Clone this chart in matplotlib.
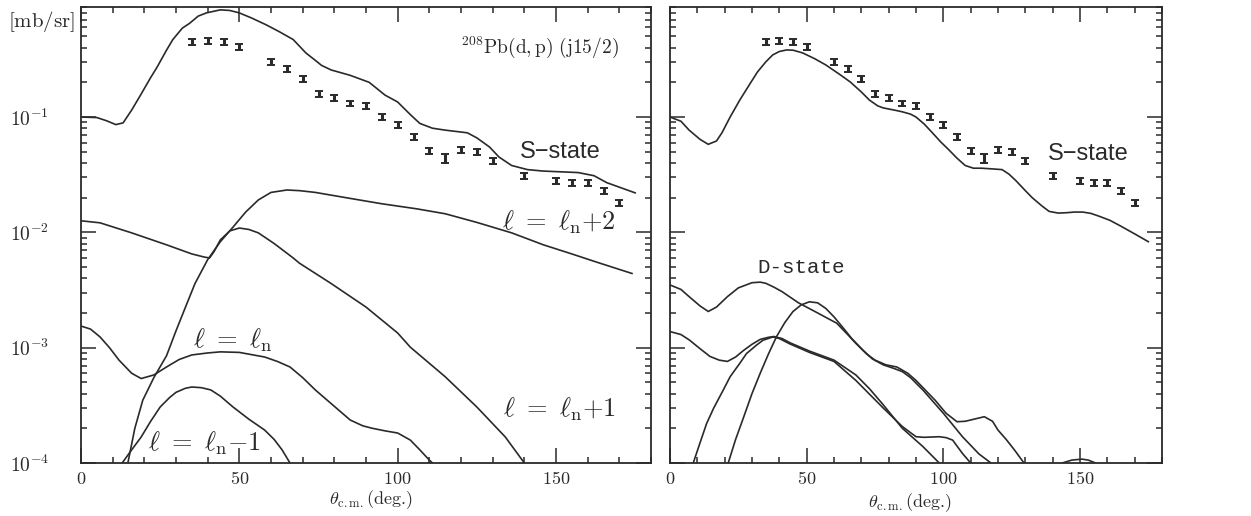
import matplotlib
matplotlib.use('agg')

import matplotlib.pyplot as plt
from matplotlib.ticker import LogLocator, NullFormatter, MultipleLocator

plt.rcParams['mathtext.fontset'] = 'cm'

# measured cross sections (same in both panels)
exp_angle = [35, 40, 45, 50, 60, 65, 70, 75, 80, 85, 90, 95, 100, 105, 110,
             115, 120, 125, 130, 140, 150, 155, 160, 165, 170]
exp_sigma = [0.448, 0.457, 0.448, 0.405, 0.301, 0.261, 0.214, 0.158, 0.146,
             0.132, 0.125, 0.100, 0.085, 0.067, 0.051, 0.044, 0.052, 0.050,
             0.042, 0.031, 0.028, 0.027, 0.027, 0.023, 0.018]
exp_err = [0.027, 0.027, 0.027, 0.022, 0.017, 0.015, 0.012, 0.009, 0.008,
           0.007, 0.007, 0.006, 0.005, 0.004, 0.003, 0.004, 0.003, 0.003,
           0.0025, 0.0018, 0.0016, 0.0016, 0.0016, 0.0014, 0.0011]

# left panel curves
s_left_ang = [0, 5, 8, 11, 13.3, 16, 18.5, 22, 24, 27, 29, 32, 34.3, 37, 39.6,
              44, 47, 50, 54, 58.5, 62.6, 67, 71, 74, 76, 79, 85, 91, 96, 100,
              104, 107, 111, 115, 122, 125, 129, 132, 136, 141, 146, 157,
              162, 166, 175]
s_left_val = [0.100, 0.099, 0.093, 0.086, 0.089, 0.115, 0.15, 0.22, 0.27,
              0.38, 0.47, 0.59, 0.65, 0.75, 0.80, 0.85, 0.84, 0.80, 0.72,
              0.63, 0.55, 0.47, 0.36, 0.31, 0.28, 0.256, 0.23, 0.20, 0.155,
              0.135, 0.105, 0.088, 0.080, 0.077, 0.073, 0.066, 0.055, 0.045,
              0.038, 0.035, 0.034, 0.033, 0.031, 0.027, 0.022]

lp1_ang = [0, 6, 16, 27, 35, 39, 40.6, 42, 44, 47, 50, 53, 56, 61, 67, 69,
           79, 90, 100, 104, 115, 125, 134, 140]
lp1_val = [0.0126, 0.0121, 0.0099, 0.0078, 0.0065, 0.0061, 0.0060, 0.0068,
           0.0086, 0.0103, 0.0109, 0.0106, 0.0099, 0.0080, 0.0060, 0.0054,
           0.0036, 0.00225, 0.00134, 0.00101, 5.6e-4, 3.06e-4, 1.68e-4, 1e-4]

l0_ang = [0, 3, 6, 9, 12, 16, 19, 23, 27, 31, 35, 40, 44, 50, 58, 62, 66,
          70, 74, 80, 85, 89, 92, 96, 100, 104, 107, 110, 111]
l0_val = [1.54e-3, 1.45e-3, 1.24e-3, 1.0e-3, 7.8e-4, 6.0e-4, 5.4e-4, 5.8e-4,
          6.8e-4, 7.9e-4, 8.65e-4, 9.0e-4, 9.2e-4, 9.1e-4, 8.3e-4, 7.6e-4,
          6.8e-4, 5.5e-4, 4.3e-4, 3.1e-4, 2.36e-4, 2.1e-4, 2.0e-4, 1.9e-4,
          1.82e-4, 1.58e-4, 1.3e-4, 1.06e-4, 1e-4]

lm1_ang = [13, 16, 19, 22, 25, 28, 30, 33, 35, 38, 41, 44, 48, 53, 58, 61,
           63.5, 66]
lm1_val = [1e-4, 1.3e-4, 1.68e-4, 2.3e-4, 3.06e-4, 3.7e-4, 4.1e-4, 4.45e-4,
           4.56e-4, 4.5e-4, 4.3e-4, 3.8e-4, 3.06e-4, 2.4e-4, 1.93e-4,
           1.6e-4, 1.3e-4, 1e-4]

lp2_ang = [14.8, 17, 19.5, 23, 27, 30, 33, 36, 40, 44, 48, 52, 56, 60, 65,
           69, 74, 85, 95, 106, 115, 125, 136, 146, 155, 163, 174]
lp2_val = [1e-4, 2.0e-4, 3.5e-4, 5.5e-4, 8.5e-4, 1.4e-3, 2.25e-3, 3.6e-3,
           5.8e-3, 8.3e-3, 0.0111, 0.0150, 0.0191, 0.0222, 0.0233, 0.0230,
           0.0222, 0.0197, 0.0177, 0.0160, 0.0145, 0.0122, 0.0099, 0.0078,
           0.0065, 0.0055, 0.0044]

# right panel curves
s_right_ang = [0, 4, 7, 11, 14, 17, 19, 22, 25.5, 29, 32, 35, 37.6, 40, 42.7,
               45, 48.5, 53, 57, 62, 66, 70, 73, 76, 78, 82, 85, 88, 90, 93,
               96, 99, 102, 105, 108, 111, 114, 118, 121.5, 124, 126.6, 130,
               132.5, 136, 138.7, 142, 145, 148, 151, 154, 157, 161, 165,
               170, 175]
s_right_val = [0.1, 0.092, 0.077, 0.064, 0.058, 0.062, 0.073, 0.10, 0.14,
               0.19, 0.246, 0.30, 0.346, 0.37, 0.382, 0.38, 0.36, 0.32, 0.283,
               0.235, 0.201, 0.165, 0.14, 0.125, 0.12, 0.115, 0.111, 0.106,
               0.10, 0.087, 0.073, 0.061, 0.052, 0.044, 0.038, 0.036, 0.036,
               0.0355, 0.035, 0.032, 0.028, 0.023, 0.020, 0.017, 0.0152,
               0.0147, 0.0148, 0.0150, 0.0150, 0.0146, 0.0138, 0.0127, 0.0113,
               0.0097, 0.0083]

d1_ang = [0, 4, 7, 11, 14, 17, 21, 25, 30, 33, 35, 38, 41, 47, 53, 61, 65,
          68, 72, 75, 79, 83, 87, 90, 97, 101, 105, 108, 110, 115, 118, 120,
          123, 126, 129.5]
d1_val = [3.5e-3, 3.2e-3, 2.77e-3, 2.3e-3, 2.06e-3, 2.25e-3, 2.77e-3, 3.3e-3,
          3.66e-3, 3.7e-3, 3.62e-3, 3.35e-3, 3.06e-3, 2.45e-3, 2.06e-3,
          1.63e-3, 1.3e-3, 1.09e-3, 8.8e-4, 7.8e-4, 7.1e-4, 6.8e-4, 6.0e-4,
          5.2e-4, 3.5e-4, 2.7e-4, 2.28e-4, 2.3e-4, 2.36e-4, 2.52e-4, 2.3e-4,
          1.93e-4, 1.6e-4, 1.3e-4, 1e-4]

d2_ang = [0, 4, 7, 11, 14.6, 18, 21, 24, 27, 30, 33, 36, 38, 41, 44, 51, 60,
          68, 73, 78, 85, 92.5, 98.5]
d2_val = [1.38e-3, 1.3e-3, 1.17e-3, 9.8e-4, 8.4e-4, 7.8e-4, 7.6e-4, 8.3e-4,
          9.5e-4, 1.07e-3, 1.18e-3, 1.23e-3, 1.25e-3, 1.2e-3, 1.1e-3,
          9.35e-4, 7.8e-4, 5.8e-4, 4.4e-4, 3.2e-4, 2.0e-4, 1.39e-4, 1e-4]

d3_ang = [8.5, 11, 13.4, 16, 19.5, 22, 25.5, 28, 31.6, 34, 37.7, 40, 43.8,
          51, 60, 68, 78, 85, 90, 93, 98.5, 101, 103.4, 107, 110]
d3_val = [1e-4, 1.5e-4, 2.2e-4, 3.0e-4, 4.3e-4, 5.6e-4, 7.3e-4, 8.9e-4,
          1.05e-3, 1.16e-3, 1.24e-3, 1.2e-3, 1.08e-3, 9.1e-4, 7.6e-4, 5.2e-4,
          3.0e-4, 2.07e-4, 1.69e-4, 1.67e-4, 1.69e-4, 1.66e-4, 1.58e-4,
          1.21e-4, 1e-4]

d4_ang = [21.3, 24, 27, 30, 33, 36, 39, 42, 45, 48, 51, 54, 57, 60, 63,
          66.5, 70.6, 74, 78, 82, 85, 88, 92.5, 100, 107, 113, 117.4]
d4_val = [1e-4, 1.6e-4, 2.52e-4, 4.0e-4, 6.0e-4, 8.8e-4, 1.25e-3, 1.65e-3,
          2.06e-3, 2.35e-3, 2.5e-3, 2.45e-3, 2.19e-3, 1.85e-3, 1.52e-3,
          1.2e-3, 9.5e-4, 8.0e-4, 7.1e-4, 6.6e-4, 6.2e-4, 5.5e-4, 4.3e-4,
          2.7e-4, 1.69e-4, 1.2e-4, 1e-4]

bump_ang = [143.5, 147, 150.8, 153, 155.7]
bump_val = [1e-4, 1.06e-4, 1.08e-4, 1.06e-4, 1e-4]

xtick_vals = [0, 50, 100, 150]
xtick_labels = [r'$0$', r'$50$', r'$100$', r'$150$']
ytick_vals = [1e-4, 1e-3, 1e-2, 1e-1]
ytick_labels = [r'$10^{-4}$', r'$10^{-3}$', r'$10^{-2}$', r'$10^{-1}$']

ink = '#2a2a2a'

fig = plt.figure(figsize=(12.51, 5.16), dpi=100)
ax1 = fig.add_axes([81 / 1251, 53 / 516, 570 / 1251, 456 / 516])
ax2 = fig.add_axes([670 / 1251, 53 / 516, 492 / 1251, 456 / 516])

for ax in (ax1, ax2):
    ax.set_yscale('log')
    ax.set_xlim(0, 180)
    ax.set_ylim(1e-4, 0.9)
    ax.set_xticks(xtick_vals)
    ax.set_xticklabels(xtick_labels, fontsize=13)
    ax.xaxis.set_minor_locator(MultipleLocator(10))
    ax.set_yticks(ytick_vals)
    ax.yaxis.set_minor_locator(LogLocator(base=10, subs=range(2, 10)))
    ax.yaxis.set_minor_formatter(NullFormatter())
    ax.tick_params(which='both', direction='in', top=True, right=True,
                   color=ink, width=1.1, labelcolor=ink)
    ax.tick_params(which='major', length=11)
    ax.tick_params(which='minor', length=4.5)
    ax.tick_params(axis='x', pad=5)
    ax.tick_params(axis='y', pad=23)
    for sp in ax.spines.values():
        sp.set_color(ink)
        sp.set_linewidth(1.3)
    ax.errorbar(exp_angle, exp_sigma, yerr=exp_err, fmt='none', ecolor=ink,
                elinewidth=2.2, capsize=3.2, capthick=1.4)

ax1.set_yticklabels(ytick_labels, fontsize=14)
ax2.set_yticklabels([])

lw = 1.2
ax1.plot(s_left_ang, s_left_val, color=ink, lw=lw)
ax1.plot(lp1_ang, lp1_val, color=ink, lw=lw)
ax1.plot(l0_ang, l0_val, color=ink, lw=lw)
ax1.plot(lm1_ang, lm1_val, color=ink, lw=lw)
ax1.plot(lp2_ang, lp2_val, color=ink, lw=lw)

ax2.plot(s_right_ang, s_right_val, color=ink, lw=lw)
for a, v in [(d1_ang, d1_val), (d2_ang, d2_val), (d3_ang, d3_val),
             (d4_ang, d4_val), (bump_ang, bump_val)]:
    ax2.plot(a, v, color=ink, lw=lw)

# annotations, left
ax1.text(145, 0.40, r'$^{208}\mathrm{Pb(d,p)\ (j15/2)}$', fontsize=14,
         ha='center', va='center', color=ink)
ax1.text(151.5, 0.050, 'S\u2212state', fontsize=17, family='Liberation Sans',
         ha='center', va='center', color=ink)
ax1.text(151, 0.0122, r'$\ell\ =\ \ell_{\rm n}{+}2$', fontsize=19,
         ha='center', va='center', color=ink)
ax1.text(151, 2.9e-4, r'$\ell\ =\ \ell_{\rm n}{+}1$', fontsize=19,
         ha='center', va='center', color=ink)
ax1.text(48, 1.17e-3, r'$\ell\ =\ \ell_{\rm n}$', fontsize=19,
         ha='center', va='center', color=ink)
ax1.text(39, 1.49e-4, r'$\ell\ =\ \ell_{\rm n}{-}1$', fontsize=19,
         ha='center', va='center', color=ink)

# annotations, right
ax2.text(153, 0.048, 'S\u2212state', fontsize=17, family='Liberation Sans',
         ha='center', va='center', color=ink)
ax2.text(48, 5.0e-3, 'D-state', fontsize=15, family='Liberation Mono',
         ha='center', va='center', color=ink)

fig.text(41 / 1251, 1 - 21 / 516, r'$\mathrm{[mb/sr]}$', fontsize=15,
         ha='center', va='center', color=ink)
xlab = r'$\theta_{\mathrm{c.m.}}$(deg.)'
fig.text(371 / 1251, 1 - 500 / 516, xlab, fontsize=13, family='cmr10',
         ha='center', va='center', color=ink)
fig.text(910 / 1251, 1 - 503 / 516, xlab, fontsize=13, family='cmr10',
         ha='center', va='center', color=ink)

fig.savefig('out.png', dpi=100, facecolor='white')
